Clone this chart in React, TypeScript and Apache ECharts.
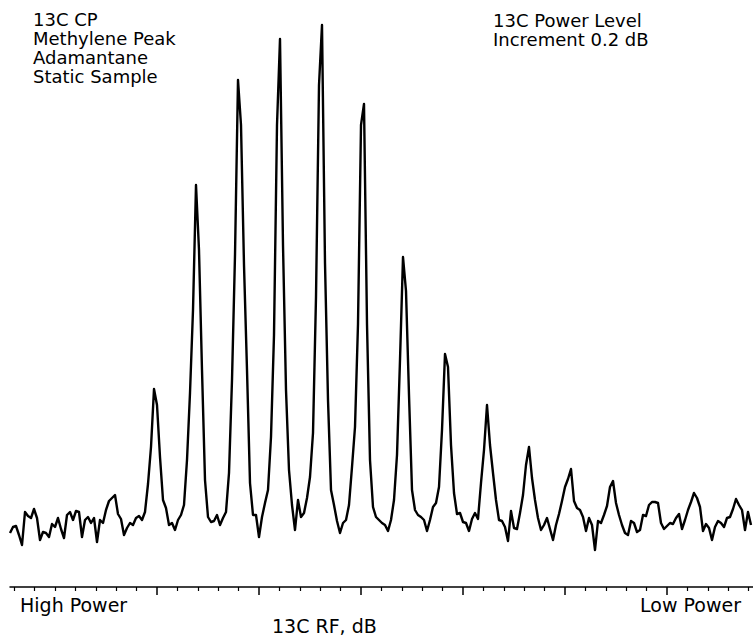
import React, { useEffect, useRef } from "react";
import * as echarts from "echarts";

// Spectrum intensity (a.u., baseline ~0), uniformly sampled along the RF sweep
const SPECTRUM: number[] = [
  12, 18, 19, 10, 0, 33, 29, 27, 36, 27,
  5, 13, 12, 8, 21, 18, 27, 16, 7, 30,
  33, 25, 34, 33, 8, 25, 28, 22, 27, 3,
  25, 22, 35, 44, 47, 50, 31, 26, 10, 17,
  22, 20, 27, 29, 25, 33, 61, 98, 156, 140,
  88, 45, 37, 20, 22, 15, 25, 30, 40, 85,
  152, 235, 360, 295, 175, 65, 28, 23, 24, 30,
  20, 27, 33, 72, 165, 290, 465, 420, 280, 175,
  62, 30, 30, 8, 28, 42, 55, 108, 210, 420,
  506, 300, 155, 75, 40, 15, 45, 28, 32, 47,
  68, 112, 248, 460, 520, 282, 145, 55, 40, 24,
  12, 22, 25, 40, 78, 118, 221, 420, 441, 221,
  85, 38, 28, 25, 22, 20, 14, 25, 45, 90,
  185, 288, 254, 150, 55, 35, 30, 28, 25, 14,
  25, 38, 42, 58, 115, 191, 178, 100, 52, 31,
  32, 23, 22, 14, 26, 32, 26, 62, 95, 140,
  100, 72, 45, 25, 24, 18, 4, 34, 17, 16,
  32, 50, 80, 98, 67, 45, 27, 15, 20, 27,
  16, 5, 20, 31, 44, 58, 66, 76, 44, 37,
  35, 28, 14, 27, 20, -5, 24, 22, 30, 39,
  58, 64, 42, 30, 20, 12, 10, 24, 22, 13,
  15, 30, 29, 40, 43, 43, 42, 22, 16, 19,
  22, 21, 27, 31, 16, 25, 35, 43, 52, 47,
  38, 14, 21, 17, 5, 18, 24, 22, 18, 27,
  28, 36, 46, 40, 35, 15, 33, 20,
];

// Axis ticks (in sample units along the sweep)
const MAJOR_TICKS: number[] = [49, 83, 117, 151, 185, 219];
const MINOR_TICKS: number[] = [
  1.4, 8.2, 15, 21.8, 28.6, 35.4, 42.2,
  55.8, 62.6, 69.4, 76.2,
  89.8, 96.6, 103.4, 110.2,
  123.8, 130.6, 137.4, 144.2,
  157.8, 164.6, 171.4, 178.2,
  191.8, 198.6, 205.4, 212.2,
  225.8, 232.6, 239.4, 246.2,
];

const NOTE_LEFT: string[] = ["13C CP", "Methylene Peak", "Adamantane", "Static Sample"];
const NOTE_RIGHT: string[] = ["13C Power Level", "Increment 0.2 dB"];
const AXIS_START_LABEL = "High Power";
const AXIS_END_LABEL = "Low Power";
const AXIS_TITLE = "13C RF, dB";

const X_MAX = SPECTRUM.length - 1 + 2 / 3;
const FONT = '"DejaVu Sans", sans-serif';

export default function App() {
  const ref = useRef<HTMLDivElement>(null);

  useEffect(() => {
    if (!ref.current) return;
    const chart = echarts.init(ref.current, null, { renderer: "svg" });
    const data = SPECTRUM.map((v, i) => [i, v]);

    chart.setOption({
      animation: false,
      backgroundColor: "#ffffff",
      grid: { left: 10, right: 0, top: 20, bottom: 49, containLabel: false },
      xAxis: [
        {
          type: "value",
          min: 0,
          max: X_MAX,
          position: "bottom",
          axisLine: { show: true, onZero: false, lineStyle: { color: "#000", width: 1.5 } },
          axisTick: { show: true, customValues: MAJOR_TICKS, length: 8, inside: false, lineStyle: { color: "#000", width: 1.5 } },
          axisLabel: { show: false },
          splitLine: { show: false },
        },
        {
          type: "value",
          min: 0,
          max: X_MAX,
          position: "bottom",
          axisLine: { show: false, onZero: false },
          axisTick: { show: true, customValues: MINOR_TICKS, length: 4, inside: false, lineStyle: { color: "#000", width: 1.2 } },
          axisLabel: { show: false },
          splitLine: { show: false },
        },
      ],
      yAxis: {
        type: "value",
        min: -42,
        max: 525,
        show: false,
        splitLine: { show: false },
      },
      series: [
        {
          type: "line",
          xAxisIndex: 0,
          data,
          symbol: "none",
          smooth: false,
          lineStyle: { color: "#000", width: 2.4, join: "round" },
          z: 3,
        },
      ],
      graphic: [
        {
          type: "text",
          left: 33,
          top: 10,
          style: { text: NOTE_LEFT.join("\n"), font: `18px ${FONT}`, fill: "#000", lineHeight: 19 },
        },
        {
          type: "text",
          left: 493,
          top: 11,
          style: { text: NOTE_RIGHT.join("\n"), font: `18px ${FONT}`, fill: "#000", lineHeight: 19 },
        },
        {
          type: "text",
          left: 20,
          top: 595,
          style: { text: AXIS_START_LABEL, font: `19px ${FONT}`, fill: "#000", lineHeight: 19 },
        },
        {
          type: "text",
          right: 12,
          top: 595,
          style: { text: AXIS_END_LABEL, font: `19px ${FONT}`, fill: "#000", lineHeight: 19 },
        },
        {
          type: "text",
          left: 272,
          top: 616,
          style: { text: AXIS_TITLE, font: `19px ${FONT}`, fill: "#000", lineHeight: 19 },
        },
      ],
    });

    return () => chart.dispose();
  }, []);

  return (
    <div
      ref={ref}
      style={{ position: "fixed", left: 0, top: 0, width: 753, height: 636, background: "#fff" }}
    />
  );
}
